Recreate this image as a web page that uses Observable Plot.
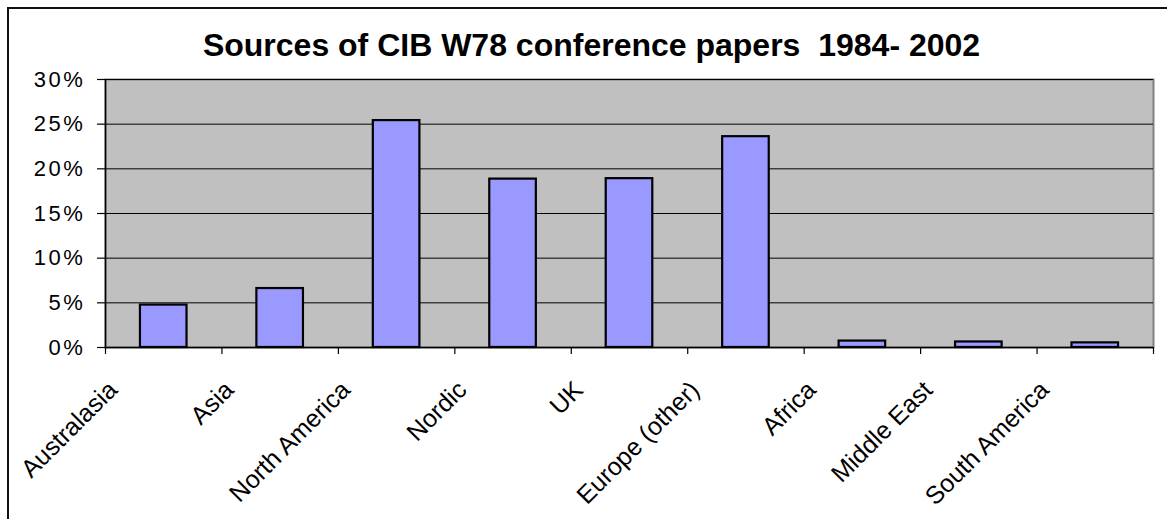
<!DOCTYPE html>
<html>
<head>
<meta charset="utf-8">
<script src="https://cdn.jsdelivr.net/npm/d3@7"></script>
<script src="https://cdn.jsdelivr.net/npm/@observablehq/plot@0.6"></script>
<style>
  html, body { margin: 0; padding: 0; background: #fff; overflow: hidden; }
  #wrap { position: relative; width: 1167px; height: 519px; }
  #border { position: absolute; left: 7px; top: 7px; width: 1200px; height: 600px; border: 2px solid #111; box-sizing: border-box; pointer-events: none; }
  svg { font-family: "Liberation Sans", Arial, sans-serif; }
  [aria-label="y-axis tick label"] text { letter-spacing: 2.6px; }
  [aria-label="category-labels"] text { letter-spacing: 0.6px; }
  [aria-label="title"] text { letter-spacing: 0.5px; }
</style>
</head>
<body>
<div id="wrap"><div id="border"></div><div id="chart"></div></div>
<script>
const title = "Sources of CIB W78 conference papers  1984- 2002";
const categories = ["Australasia", "Asia", "North America", "Nordic", "UK", "Europe (other)", "Africa", "Middle East", "South America"];
const values = [0.0475, 0.066, 0.254, 0.1885, 0.189, 0.236, 0.0072, 0.0062, 0.0052];
const yTicks = [0, 0.05, 0.10, 0.15, 0.20, 0.25, 0.30];

const data = categories.map((c, i) => ({category: c, value: values[i], i}));

const chart = Plot.plot({
  width: 1167,
  height: 519,
  marginLeft: 105,
  marginRight: 14,
  marginTop: 79,
  marginBottom: 172,
  style: {fontFamily: "'Liberation Sans', Arial, sans-serif", background: "transparent", overflow: "visible"},
  x: {type: "linear", domain: [0, categories.length], label: null},
  y: {domain: [0, 0.30], label: null},
  marks: [
    Plot.frame({fill: "#c0c0c0", stroke: "#808080", strokeWidth: 2}),
    Plot.gridY(yTicks, {stroke: "#000", strokeOpacity: 1, strokeWidth: 1}),
    Plot.rectY(data, {x1: d => d.i + 0.3, x2: d => d.i + 0.7, y: "value", fill: "#9999ff", stroke: "#000", strokeWidth: 2.2}),
    Plot.ruleX([0], {stroke: "#000", strokeWidth: 1.5}),
    Plot.ruleY([0], {stroke: "#000", strokeWidth: 1.5}),
    Plot.axisY({ticks: yTicks, tickFormat: d3.format(".0%"), tickSize: 8, tickPadding: 12, fontSize: 22, stroke: "#000", strokeWidth: 1.2, color: "#000", label: null}),
    Plot.axisX({ticks: d3.range(categories.length + 1), tickFormat: () => "", tickSize: 7, stroke: "#000", strokeWidth: 1.2, label: null}),
    Plot.text(data, {ariaLabel: "category-labels", x: d => d.i + 0.5, frameAnchor: "bottom", text: "category", rotate: -45, textAnchor: "end", lineAnchor: "bottom", dx: -45, dy: 44, fontSize: 25, fill: "#000"}),
    Plot.text([title], {ariaLabel: "title", frameAnchor: "top", dx: -38, dy: -24, lineAnchor: "bottom", text: d => d, fontSize: 32, fontWeight: "bold", fill: "#000"})
  ]
});
document.getElementById("chart").appendChild(chart);
</script>
</body>
</html>
